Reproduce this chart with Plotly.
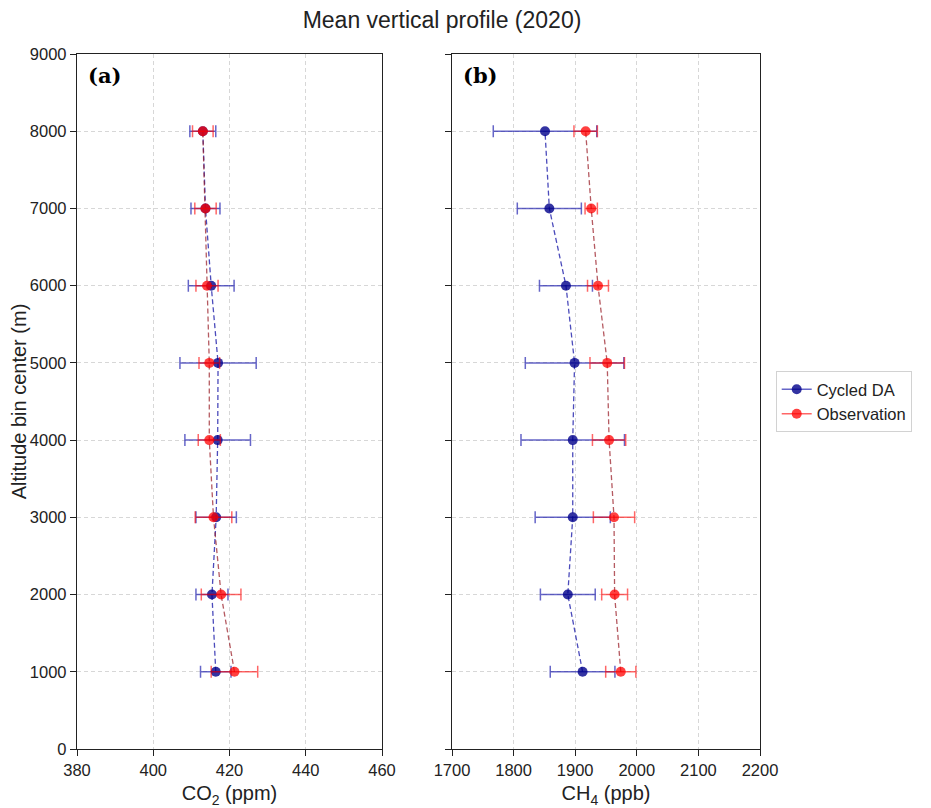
import plotly.graph_objects as go

altitude = [1000, 2000, 3000, 4000, 5000, 6000, 7000, 8000]

co2_da = [416.4, 415.4, 416.5, 416.9, 417.0, 415.2, 413.7, 413.0]
co2_da_err = [4.0, 4.2, 5.3, 8.6, 10.0, 6.0, 3.8, 3.4]
co2_obs = [421.3, 417.8, 415.8, 414.7, 414.7, 414.1, 413.7, 413.0]
co2_obs_err = [6.1, 5.2, 4.8, 2.9, 2.7, 2.9, 2.8, 2.7]

ch4_da = [1912, 1888, 1896, 1896, 1899, 1885, 1858, 1851]
ch4_da_err = [52.5, 44.5, 61, 84, 80, 43, 52, 84]
ch4_obs = [1974, 1964, 1963, 1955, 1952, 1937, 1926, 1917]
ch4_obs_err = [24.5, 21, 33.5, 27, 28, 17, 10, 19]

co2_ticks = [380, 400, 420, 440, 460]
ch4_ticks = [1700, 1800, 1900, 2000, 2100, 2200]
alt_ticks = [0, 1000, 2000, 3000, 4000, 5000, 6000, 7000, 8000, 9000]

FONT = "Liberation Sans"
BLUE_M = "rgba(0,0,139,0.8)"
BLUE_E = "rgba(20,20,170,0.65)"
BLUE_L = "rgba(30,30,170,0.8)"
RED_M = "rgba(255,0,0,0.75)"
RED_E = "rgba(255,0,0,0.6)"
RED_L = "rgba(150,20,30,0.7)"

fig = go.Figure()

def add(xs, errs, xa, ya, name, mc, ec, lc):
    fig.add_trace(go.Scatter(
        x=xs, y=altitude, xaxis=xa, yaxis=ya, name=name,
        mode="lines+markers", showlegend=False,
        marker=dict(color=mc, size=10),
        line=dict(color=lc, width=1.3, dash="5px,3px"),
        error_x=dict(type="data", array=errs, symmetric=True,
                     color=ec, thickness=1.5, width=6),
    ))

def add_legend(name, mc, ec):
    fig.add_trace(go.Scatter(
        x=[None], y=[None], xaxis="x", yaxis="y", name=name,
        mode="lines+markers", showlegend=True,
        marker=dict(color=mc, size=10),
        line=dict(color=ec, width=1.5),
    ))

add(co2_da, co2_da_err, "x", "y", "Cycled DA", BLUE_M, BLUE_E, BLUE_L)
add(co2_obs, co2_obs_err, "x", "y", "Observation", RED_M, RED_E, RED_L)
add(ch4_da, ch4_da_err, "x2", "y2", "Cycled DA", BLUE_M, BLUE_E, BLUE_L)
add(ch4_obs, ch4_obs_err, "x2", "y2", "Observation", RED_M, RED_E, RED_L)
add_legend("Cycled DA", BLUE_M, BLUE_E)
add_legend("Observation", RED_M, RED_E)

axis_common = dict(
    showline=True, linecolor="#222", linewidth=1.3, mirror=True,
    ticks="outside", ticklen=6, tickcolor="#222", automargin=False,
    showgrid=True, gridcolor="rgba(215,215,215,1)", griddash="4px,3px", gridwidth=1,
    zeroline=False, tickfont=dict(family=FONT, size=16.5, color="#222"),
)

W, H = 923, 800
L, T = 69, 46
R = W - (760 - 8)
B = H - (749 - 8)
PW = W - L - R

fig.update_layout(
    width=W, height=H,
    margin=dict(l=L, r=R, t=T, b=B),
    paper_bgcolor="white", plot_bgcolor="white",
    font=dict(family=FONT, color="#222"),
    title=dict(text="Mean vertical profile (2020)", x=(442 - 8) / W, xanchor="center",
               yref="container", y=1 - 12 / H, yanchor="middle",
               font=dict(family=FONT, size=23, color="#222")),
    xaxis=dict(domain=[0, 305 / PW], range=[380, 460], tickvals=co2_ticks,
               title=dict(text="CO<sub>2</sub> (ppm)", font=dict(family=FONT, size=20), standoff=8),
               **axis_common),
    xaxis2=dict(domain=[(452 - 77) / PW, 1], range=[1700, 2200], tickvals=ch4_ticks,
                title=dict(text="CH<sub>4</sub> (ppb)", font=dict(family=FONT, size=20), standoff=8),
                **axis_common),
    yaxis=dict(range=[0, 9000], tickvals=alt_ticks, anchor="x",
               title=dict(text="Altitude bin center (m)", font=dict(family=FONT, size=20), standoff=14),
               **axis_common),
    yaxis2=dict(range=[0, 9000], tickvals=alt_ticks, anchor="x2", showticklabels=False,
                **axis_common),
    legend=dict(x=1.023, xanchor="left", y=0.50, yanchor="middle",
                bordercolor="rgba(210,210,210,1)", borderwidth=1,
                font=dict(family=FONT, size=16.5, color="#222"),
                bgcolor="white", itemwidth=30, tracegroupgap=0),
    annotations=[
        dict(text="<b>(a)</b>", xref="x domain", yref="y domain", x=0.03, y=0.99,
             xanchor="left", yanchor="top", showarrow=False,
             font=dict(family="DejaVu Serif", size=21, color="black")),
        dict(text="<b>(b)</b>", xref="x2 domain", yref="y2 domain", x=0.03, y=0.99,
             xanchor="left", yanchor="top", showarrow=False,
             font=dict(family="DejaVu Serif", size=21, color="black")),
    ],
)

fig.write_html("out.html")
